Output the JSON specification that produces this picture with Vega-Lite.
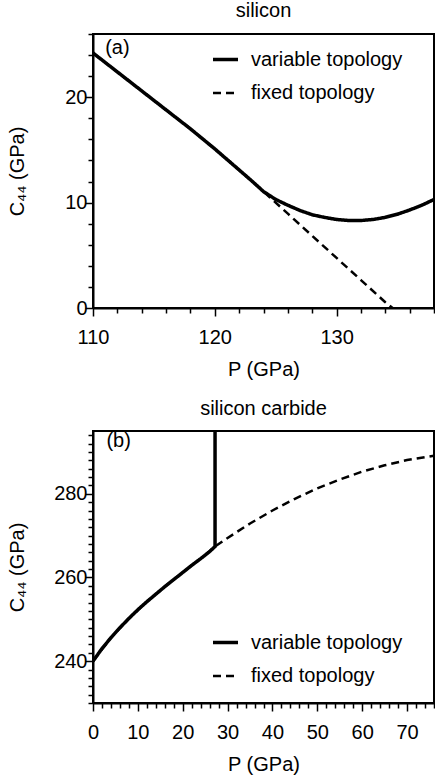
{
  "$schema": "https://vega.github.io/schema/vega-lite/v6.json",
  "padding": {"left": 5, "top": 0, "right": 0, "bottom": 0},
  "bounds": "flush",
  "spacing": 123,
  "config": {
    "font": "Liberation Sans",
    "view": {"stroke": "black", "strokeWidth": 2},
    "axis": {
      "grid": false,
      "domainColor": "black",
      "domainWidth": 2,
      "tickColor": "black",
      "tickWidth": 1.5,
      "tickCount": 200,
      "format": "d",
      "labelFont": "Liberation Sans",
      "labelFontSize": 20,
      "labelColor": "black",
      "labelOverlap": false,
      "labelBound": false,
      "labelFlush": false,
      "titleFont": "Liberation Sans",
      "titleFontSize": 20,
      "titleFontWeight": "normal",
      "titleColor": "black"
    },
    "axisY": {"titleX": -76, "titleBaseline": "middle", "labelPadding": -2},
    "axisX": {"labelPadding": 11, "titlePadding": 12},
    "title": {"font": "Liberation Sans", "fontSize": 20, "fontWeight": "normal", "color": "black", "offset": 12, "frame": "group"},
    "legend": {
      "labelFont": "Liberation Sans",
      "labelFontSize": 20,
      "labelColor": "black",
      "symbolType": "stroke",
      "symbolSize": 625,
      "symbolStrokeColor": "black",
      "rowPadding": 9,
      "labelOffset": 11,
      "padding": 0
    }
  },
  "datasets": {
    "si": [
      {"topology": "variable topology", "i": 0, "P": 110, "C": 24.2},
      {"topology": "variable topology", "i": 1, "P": 112, "C": 22.4},
      {"topology": "variable topology", "i": 2, "P": 114, "C": 20.6},
      {"topology": "variable topology", "i": 3, "P": 116, "C": 18.8},
      {"topology": "variable topology", "i": 4, "P": 118, "C": 17.0},
      {"topology": "variable topology", "i": 5, "P": 120, "C": 15.1},
      {"topology": "variable topology", "i": 6, "P": 122, "C": 13.1},
      {"topology": "variable topology", "i": 7, "P": 123, "C": 12.1},
      {"topology": "variable topology", "i": 8, "P": 124, "C": 11.05},
      {"topology": "variable topology", "i": 9, "P": 125, "C": 10.3},
      {"topology": "variable topology", "i": 10, "P": 126, "C": 9.75},
      {"topology": "variable topology", "i": 11, "P": 127, "C": 9.25},
      {"topology": "variable topology", "i": 12, "P": 128, "C": 8.85},
      {"topology": "variable topology", "i": 13, "P": 129, "C": 8.6},
      {"topology": "variable topology", "i": 14, "P": 130, "C": 8.4},
      {"topology": "variable topology", "i": 15, "P": 131, "C": 8.3},
      {"topology": "variable topology", "i": 16, "P": 132, "C": 8.3},
      {"topology": "variable topology", "i": 17, "P": 133, "C": 8.4},
      {"topology": "variable topology", "i": 18, "P": 134, "C": 8.6},
      {"topology": "variable topology", "i": 19, "P": 135, "C": 8.9},
      {"topology": "variable topology", "i": 20, "P": 136, "C": 9.3},
      {"topology": "variable topology", "i": 21, "P": 137, "C": 9.75},
      {"topology": "variable topology", "i": 22, "P": 138, "C": 10.3},
      {"topology": "fixed topology", "i": 0, "P": 110, "C": 24.2},
      {"topology": "fixed topology", "i": 1, "P": 112, "C": 22.4},
      {"topology": "fixed topology", "i": 2, "P": 114, "C": 20.6},
      {"topology": "fixed topology", "i": 3, "P": 116, "C": 18.8},
      {"topology": "fixed topology", "i": 4, "P": 118, "C": 17.0},
      {"topology": "fixed topology", "i": 5, "P": 120, "C": 15.1},
      {"topology": "fixed topology", "i": 6, "P": 122, "C": 13.1},
      {"topology": "fixed topology", "i": 7, "P": 124, "C": 11.05},
      {"topology": "fixed topology", "i": 8, "P": 126, "C": 8.95},
      {"topology": "fixed topology", "i": 9, "P": 128, "C": 6.85},
      {"topology": "fixed topology", "i": 10, "P": 130, "C": 4.75},
      {"topology": "fixed topology", "i": 11, "P": 132, "C": 2.65},
      {"topology": "fixed topology", "i": 12, "P": 134, "C": 0.55},
      {"topology": "fixed topology", "i": 13, "P": 134.6, "C": 0}
    ],
    "sic": [
      {"topology": "variable topology", "i": 0, "P": 0, "C": 240},
      {"topology": "variable topology", "i": 1, "P": 2, "C": 243.0},
      {"topology": "variable topology", "i": 2, "P": 4, "C": 245.6},
      {"topology": "variable topology", "i": 3, "P": 6, "C": 248.0},
      {"topology": "variable topology", "i": 4, "P": 8, "C": 250.2},
      {"topology": "variable topology", "i": 5, "P": 10, "C": 252.3},
      {"topology": "variable topology", "i": 6, "P": 12, "C": 254.2},
      {"topology": "variable topology", "i": 7, "P": 14, "C": 256.0},
      {"topology": "variable topology", "i": 8, "P": 16, "C": 257.8},
      {"topology": "variable topology", "i": 9, "P": 18, "C": 259.5},
      {"topology": "variable topology", "i": 10, "P": 20, "C": 261.2},
      {"topology": "variable topology", "i": 11, "P": 22, "C": 262.9},
      {"topology": "variable topology", "i": 12, "P": 24, "C": 264.5},
      {"topology": "variable topology", "i": 13, "P": 26, "C": 266.2},
      {"topology": "variable topology", "i": 14, "P": 27.2, "C": 267.4},
      {"topology": "variable topology", "i": 15, "P": 27.2, "C": 295},
      {"topology": "fixed topology", "i": 0, "P": 0, "C": 240},
      {"topology": "fixed topology", "i": 1, "P": 4, "C": 245.6},
      {"topology": "fixed topology", "i": 2, "P": 8, "C": 250.2},
      {"topology": "fixed topology", "i": 3, "P": 12, "C": 254.2},
      {"topology": "fixed topology", "i": 4, "P": 16, "C": 257.8},
      {"topology": "fixed topology", "i": 5, "P": 20, "C": 261.2},
      {"topology": "fixed topology", "i": 6, "P": 24, "C": 264.5},
      {"topology": "fixed topology", "i": 7, "P": 27.2, "C": 267.4},
      {"topology": "fixed topology", "i": 8, "P": 30, "C": 269.45},
      {"topology": "fixed topology", "i": 9, "P": 35, "C": 272.9},
      {"topology": "fixed topology", "i": 10, "P": 40, "C": 276.0},
      {"topology": "fixed topology", "i": 11, "P": 45, "C": 278.8},
      {"topology": "fixed topology", "i": 12, "P": 50, "C": 281.3},
      {"topology": "fixed topology", "i": 13, "P": 55, "C": 283.4},
      {"topology": "fixed topology", "i": 14, "P": 60, "C": 285.3},
      {"topology": "fixed topology", "i": 15, "P": 65, "C": 286.8},
      {"topology": "fixed topology", "i": 16, "P": 70, "C": 288.05},
      {"topology": "fixed topology", "i": 17, "P": 76, "C": 289.1}
    ]
  },
  "resolve": {
    "scale": {"x": "independent", "y": "independent", "strokeDash": "independent", "strokeWidth": "independent"},
    "legend": {"strokeDash": "independent", "strokeWidth": "independent"}
  },
  "vconcat": [
    {
      "title": {"text": "silicon"},
      "width": 341,
      "height": 274,
      "layer": [
        {
          "data": {"name": "si"},
          "mark": {"type": "line", "color": "black", "clip": true},
          "encoding": {
            "x": {
              "field": "P", "type": "quantitative",
              "scale": {"domain": [110, 138], "nice": false, "zero": false},
              "axis": {
                "title": "P (GPa)",
                "labelOverlap": false,
                "tickCount": 200,
                "format": "d",
                "values": [110,112,114,116,118,120,122,124,126,128,130,132,134,136,138],
                "labelExpr": "datum.value % 10 === 0 ? datum.label : ''",
                "labelFontSize": {"condition": {"test": "datum.value % 10 === 0", "value": 20}, "value": 1},
                "tickSize": {"condition": {"test": "datum.value % 10 === 0", "value": 8}, "value": 5}
              }
            },
            "y": {
              "field": "C", "type": "quantitative",
              "scale": {"domain": [0, 26], "nice": false, "zero": false},
              "axis": {
                "title": "C₄₄ (GPa)",
                "labelOverlap": false,
                "tickCount": 200,
                "format": "d",
                "values": [0,2,4,6,8,10,12,14,16,18,20,22,24,26],
                "labelExpr": "datum.value % 10 === 0 ? datum.label : ''",
                "labelFontSize": {"condition": {"test": "datum.value % 10 === 0", "value": 20}, "value": 1},
                "tickSize": {"condition": {"test": "datum.value % 10 === 0", "value": 8}, "value": 5}
              }
            },
            "order": {"field": "i", "type": "quantitative"},
            "strokeDash": {
              "field": "topology", "type": "nominal",
              "scale": {"domain": ["variable topology", "fixed topology"], "range": [[1, 0], [8, 5]]},
              "legend": {"title": null, "orient": "none", "legendX": 118, "legendY": 11}
            },
            "strokeWidth": {
              "field": "topology", "type": "nominal",
              "scale": {"domain": ["variable topology", "fixed topology"], "range": [3.5, 2.5]},
              "legend": {"title": null, "orient": "none", "legendX": 118, "legendY": 11}
            }
          }
        },
        {
          "data": {"values": [{}]},
          "mark": {"type": "text", "text": "(a)", "fontSize": 20, "font": "Liberation Sans", "color": "black", "align": "left", "baseline": "middle"},
          "encoding": {
            "x": {"datum": 111.0, "type": "quantitative"},
            "y": {"datum": 24.7, "type": "quantitative"}
          }
        }
      ]
    },
    {
      "title": {"text": "silicon carbide"},
      "width": 341,
      "height": 272,
      "layer": [
        {
          "data": {"name": "sic"},
          "mark": {"type": "line", "color": "black", "clip": true},
          "encoding": {
            "x": {
              "field": "P", "type": "quantitative",
              "scale": {"domain": [0, 76], "nice": false, "zero": false},
              "axis": {
                "title": "P (GPa)",
                "labelOverlap": false,
                "tickCount": 200,
                "format": "d",
                "values": [0,2,4,6,8,10,12,14,16,18,20,22,24,26,28,30,32,34,36,38,40,42,44,46,48,50,52,54,56,58,60,62,64,66,68,70,72,74,76],
                "labelExpr": "datum.value % 10 === 0 ? datum.label : ''",
                "labelFontSize": {"condition": {"test": "datum.value % 10 === 0", "value": 20}, "value": 1},
                "tickSize": {"condition": {"test": "datum.value % 10 === 0", "value": 8}, "value": 5}
              }
            },
            "y": {
              "field": "C", "type": "quantitative",
              "scale": {"domain": [230, 295], "nice": false, "zero": false},
              "axis": {
                "title": "C₄₄ (GPa)",
                "labelOverlap": false,
                "tickCount": 200,
                "format": "d",
                "values": [230,232,234,236,238,240,242,244,246,248,250,252,254,256,258,260,262,264,266,268,270,272,274,276,278,280,282,284,286,288,290,292,294],
                "labelExpr": "datum.value % 20 === 0 ? datum.label : ''",
                "labelFontSize": {"condition": {"test": "datum.value % 20 === 0", "value": 20}, "value": 1},
                "tickSize": {"condition": {"test": "datum.value % 20 === 0", "value": 8}, "value": 5}
              }
            },
            "order": {"field": "i", "type": "quantitative"},
            "strokeDash": {
              "field": "topology", "type": "nominal",
              "scale": {"domain": ["variable topology", "fixed topology"], "range": [[1, 0], [8, 5]]},
              "legend": {"title": null, "orient": "none", "legendX": 118, "legendY": 197}
            },
            "strokeWidth": {
              "field": "topology", "type": "nominal",
              "scale": {"domain": ["variable topology", "fixed topology"], "range": [3.5, 2.5]},
              "legend": {"title": null, "orient": "none", "legendX": 118, "legendY": 197}
            }
          }
        },
        {
          "data": {"values": [{}]},
          "mark": {"type": "text", "text": "(b)", "fontSize": 20, "font": "Liberation Sans", "color": "black", "align": "left", "baseline": "middle"},
          "encoding": {
            "x": {"datum": 3.0, "type": "quantitative"},
            "y": {"datum": 292.7, "type": "quantitative"}
          }
        }
      ]
    }
  ]
}
